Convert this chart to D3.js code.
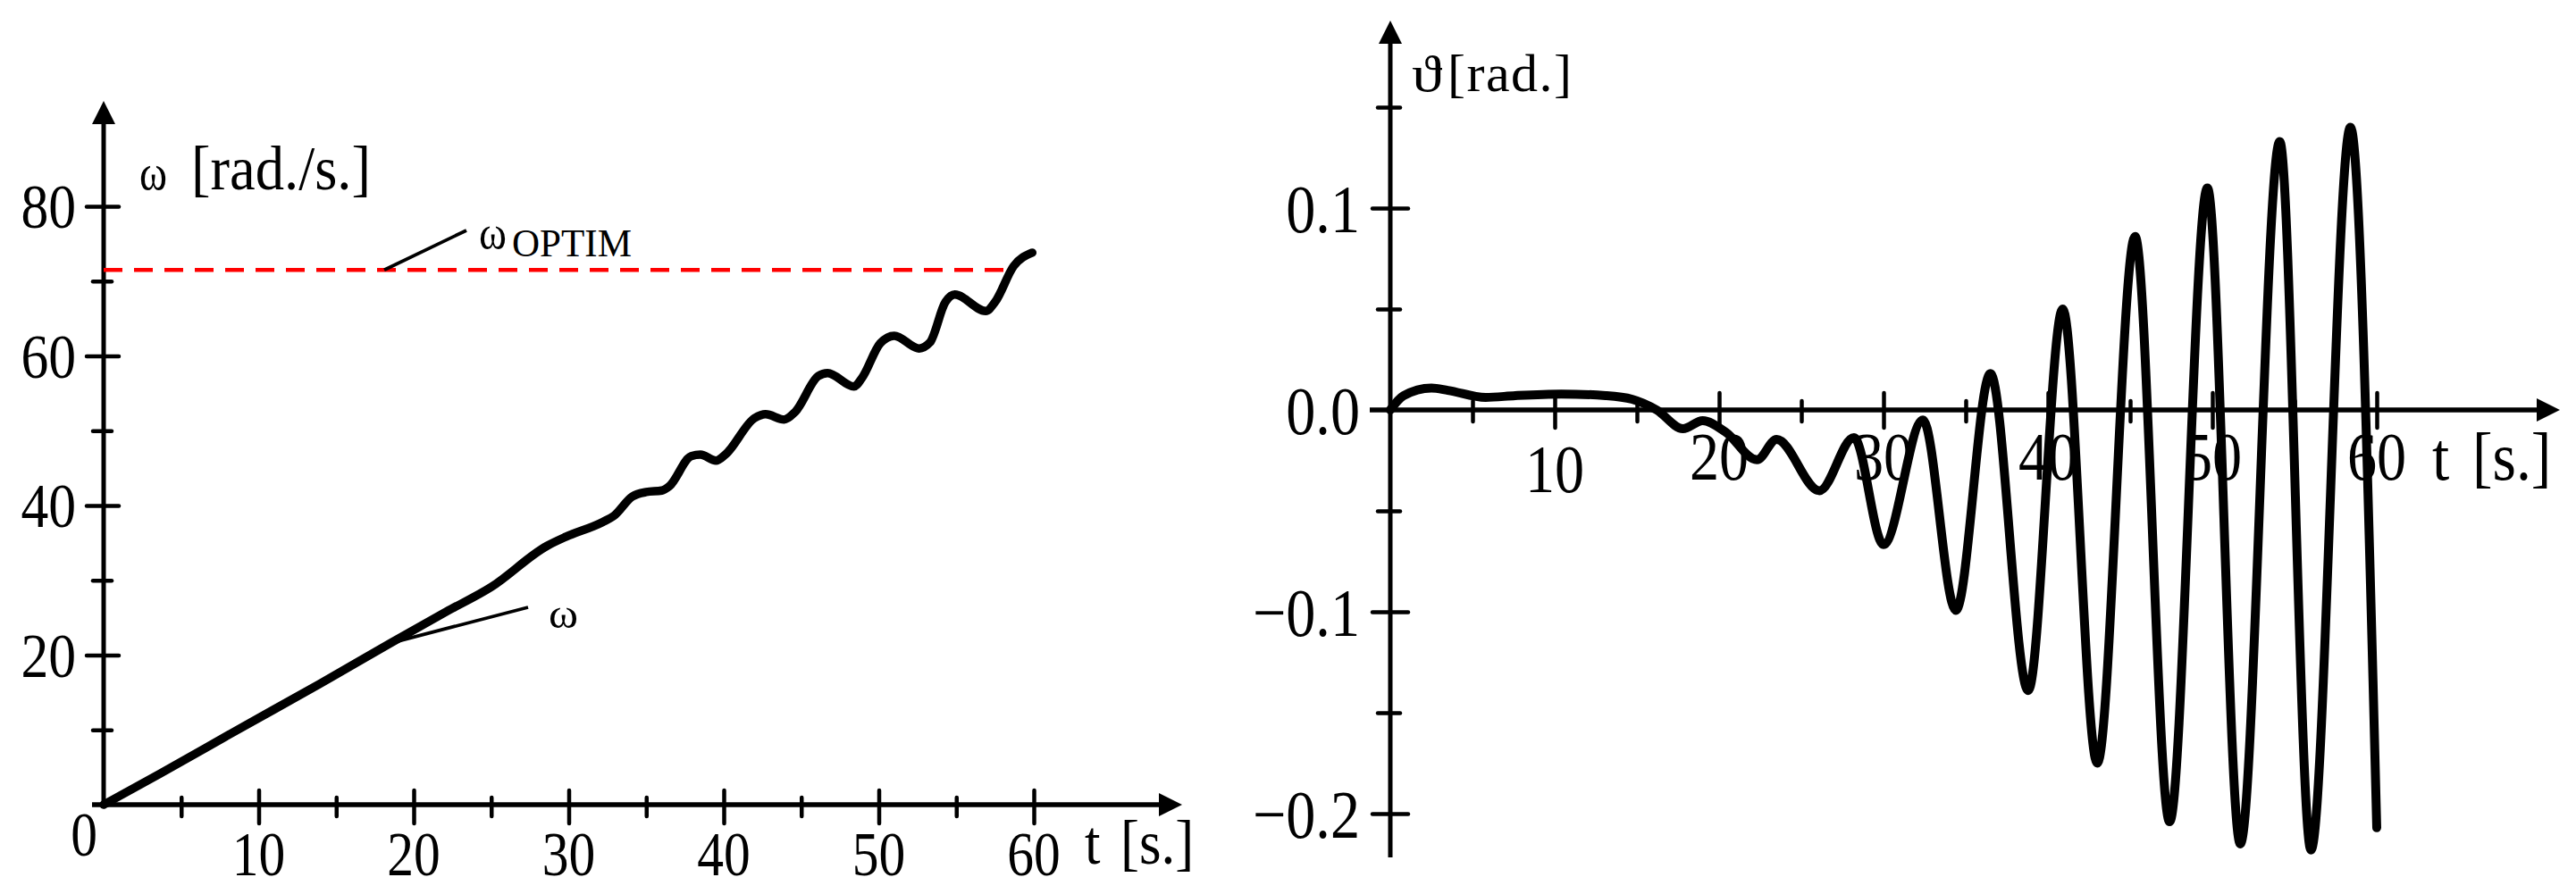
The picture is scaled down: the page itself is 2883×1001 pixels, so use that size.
<!DOCTYPE html>
<html lang="en">
<head>
<meta charset="UTF-8">
<script src="https://d3js.org/d3.v7.min.js" charset="utf-8"></script>
<title>omega and theta</title>
<style>
    body { margin: 0; background: #fff; }
    svg { display: block; font-family: "Liberation Serif", "Times New Roman", serif; }
</style>
</head>
<body>
<div id="chart"></div>
<script>
    // left plot: angular speed omega(t)
    const omegaTime = [0, 3.6, 8.8, 13.9, 18.5, 22.1, 25.0, 28.6, 29.8, 32.2, 32.9, 34.1, 35.0, 36.0, 36.5,
        37.9, 38.5, 39.5, 40.1, 42.0, 42.7, 43.9, 44.6, 46.1, 46.7, 48.4, 48.9, 50.1, 51.0, 52.6, 53.3,
        54.3, 54.9, 56.9, 57.5, 58.7, 59.9];
    const omegaValue = [0, 4.1, 10.2, 16.1, 21.6, 25.8, 29.1, 34.6, 35.8, 37.8, 38.6, 41.2, 41.8, 42.0, 42.6,
        46.6, 46.8, 46.0, 46.8, 51.7, 52.2, 51.5, 52.5, 57.3, 57.7, 55.9, 57.0, 61.7, 62.7, 61.0, 61.8,
        67.2, 68.2, 66.0, 67.2, 72.0, 73.8];
    const optimTime = [0, 58.2];
    const omegaOptim = 71.5;
    const omegaMajor = [20, 40, 60, 80];
    const omegaMinor = [10, 30, 50, 70];
    const timeMajor = [10, 20, 30, 40, 50, 60];
    const timeMinor = [5, 15, 25, 35, 45, 55];

    // right plot: angle theta(t)
    const thetaTime = [0, 0.8, 2.5, 3.5, 5.8, 7.6, 10.4, 13.1, 14.7, 16.2, 17.8, 19.0, 20.4, 22.3, 23.5,
        26.1, 28.2, 30.0, 32.4, 34.4, 36.5, 38.8, 40.9, 43.0, 45.3, 47.4, 49.7, 51.7, 54.1, 56.0, 58.4, 60.0];
    const thetaValue = [0, 0.007, 0.0108, 0.0097, 0.0062, 0.0071, 0.0079, 0.0071, 0.0053, 0, -0.0093, -0.0053,
        -0.011, -0.0247, -0.0146, -0.040, -0.0137, -0.0667, -0.0050, -0.0993, 0.018, -0.139, 0.050, -0.175,
        0.086, -0.204, 0.110, -0.215, 0.133, -0.218, 0.140, -0.207];
    const thetaMajor = [0.1, -0.1, -0.2];
    const thetaMinor = [0.15, 0.05, -0.05, -0.15];
    const thetaLabelValues = [0.1, 0, -0.1, -0.2];
    const thetaLabels = ["0.1", "0.0", "\u22120.1", "\u22120.2"];

    const svg = d3.select("#chart").append("svg")
        .attr("width", 2883)
        .attr("height", 1001);

    // text squeezed horizontally like the original
    const txt = (x, y, s, size, sx, anchor) => svg.append("text")
        .attr("transform", `translate(${x},${y}) scale(${sx},1)`)
        .attr("font-size", size)
        .attr("text-anchor", anchor || "start")
        .attr("fill", "#000")
        .text(s);

    // text fitted to a measured width
    const txtLen = (x, y, s, size, len) => svg.append("text")
        .attr("x", x).attr("y", y)
        .attr("font-size", size)
        .attr("textLength", len)
        .attr("lengthAdjust", "spacingAndGlyphs")
        .attr("fill", "#000")
        .text(s);

    const seg = (x1, y1, x2, y2, w) => svg.append("line")
        .attr("x1", x1).attr("y1", y1).attr("x2", x2).attr("y2", y2)
        .attr("stroke", "#000").attr("stroke-width", w);

    const arrow = (pts) => svg.append("path")
        .attr("d", "M" + pts.map(p => p.join(",")).join("L") + "Z")
        .attr("fill", "#000");

    const tickGroup = (axis, tx, ty) => {
        svg.append("g")
            .attr("transform", `translate(${tx},${ty})`)
            .call(axis.tickFormat("").tickSizeOuter(0))
            .call(g => g.select(".domain").remove())
            .selectAll("line")
            .attr("stroke", "#000")
            .attr("stroke-width", 4.5)
            .attr("stroke-linecap", "round");
    };

    // ---------- left plot ----------
    const xL = d3.scaleLinear().domain([0, 60]).range([116, 1157]);
    const yL = d3.scaleLinear().domain([0, 80]).range([901, 231]);

    seg(103, yL(0), 1300, yL(0), 5.5);
    arrow([[1323, yL(0)], [1297, yL(0) - 13], [1297, yL(0) + 13]]);
    seg(xL(0), 905, xL(0), 136, 5);
    arrow([[xL(0), 113], [xL(0) - 13, 139], [xL(0) + 13, 139]]);

    tickGroup(d3.axisBottom(xL).tickValues(timeMajor).tickSize(37), 0, 885);
    tickGroup(d3.axisBottom(xL).tickValues(timeMinor).tickSize(21), 0, 893);
    tickGroup(d3.axisLeft(yL).tickValues(omegaMajor).tickSize(36), 133, 0);
    tickGroup(d3.axisLeft(yL).tickValues(omegaMinor).tickSize(21), 125, 0);

    omegaMajor.forEach(v => txt(85, yL(v) + 24, String(v), 70, 0.88, "end"));
    timeMajor.forEach(v => txt(xL(v), 980, String(v), 70, 0.85, "middle"));
    txt(94, 958, "0", 70, 0.85, "middle");
    txt(1214, 967, "t", 70, 0.9);
    txt(1254, 967, "[s.]", 70, 0.9);

    txtLen(156, 212, "\u03c9", 56, 31);
    txtLen(214, 212, "[rad./s.]", 70, 201);

    // optimum speed, red dashed
    svg.append("path")
        .datum(optimTime)
        .attr("d", d3.line().x(d => xL(d)).y(() => yL(omegaOptim)))
        .attr("fill", "none")
        .attr("stroke", "#ff0000")
        .attr("stroke-width", 4.5)
        .attr("stroke-dasharray", "21,13");

    seg(xL(18.1), yL(omegaOptim), 522, 258, 3.8);
    txtLen(536, 278, "\u03c9", 52, 31);
    txtLen(573, 287, "OPTIM", 44, 134);

    svg.append("path")
        .datum(d3.zip(omegaTime, omegaValue))
        .attr("d", d3.line().x(d => xL(d[0])).y(d => yL(d[1])).curve(d3.curveMonotoneX))
        .attr("fill", "none")
        .attr("stroke", "#000")
        .attr("stroke-width", 9.5)
        .attr("stroke-linecap", "round")
        .attr("stroke-linejoin", "round");

    seg(xL(18.5), yL(21.6), 591, 680, 3.8);
    txtLen(614, 703, "\u03c9", 46, 33);

    // ---------- right plot ----------
    const xR = d3.scaleLinear().domain([0, 60]).range([1556, 2660]);
    const yR = d3.scaleLinear().domain([0, 0.1]).range([459, 233]);

    seg(1533, yR(0), 2841, yR(0), 5.5);
    arrow([[2865, yR(0)], [2839, yR(0) - 13], [2839, yR(0) + 13]]);
    seg(xR(0), 960, xR(0), 47, 5);
    arrow([[xR(0), 23], [xR(0) - 13, 49], [xR(0) + 13, 49]]);

    tickGroup(d3.axisBottom(xR).tickValues(timeMajor).tickSize(39), 0, 440);
    tickGroup(d3.axisBottom(xR).tickValues(timeMinor).tickSize(23), 0, 449);
    tickGroup(d3.axisLeft(yR).tickValues(thetaMajor).tickSize(40), 1576, 0);
    tickGroup(d3.axisLeft(yR).tickValues(thetaMinor).tickSize(25), 1567, 0);

    thetaLabelValues.forEach((v, i) => txt(1522, yR(v) + 27, thetaLabels[i], 77, 0.86, "end"));
    timeMajor.forEach(v => txt(xR(v), v === 10 ? 551 : 537, String(v), 77, 0.86, "middle"));
    txt(2722, 537, "t", 77, 0.9);
    txt(2767, 537, "[s.]", 77, 0.88);

    txtLen(1580, 102, "\u03d1", 58, 34);
    svg.append("text")
        .attr("x", 1620).attr("y", 102)
        .attr("font-size", 60)
        .attr("textLength", 139)
        .attr("lengthAdjust", "spacing")
        .text("[rad.]");

    svg.append("path")
        .datum(d3.zip(thetaTime, thetaValue))
        .attr("d", d3.line().x(d => xR(d[0])).y(d => yR(d[1])).curve(d3.curveMonotoneX))
        .attr("fill", "none")
        .attr("stroke", "#000")
        .attr("stroke-width", 10)
        .attr("stroke-linecap", "round")
        .attr("stroke-linejoin", "round");
</script>
</body>
</html>
